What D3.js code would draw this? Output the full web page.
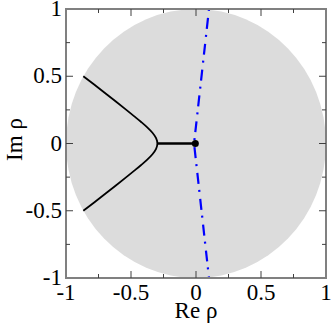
<!DOCTYPE html>
<html>
<head>
<meta charset="utf-8">
<script src="https://cdn.jsdelivr.net/npm/d3@7"></script>
<style>
  body { margin: 0; background: #fff; }
  svg text { font-family: 'Liberation Serif', 'Times New Roman', 'DejaVu Serif', serif; }
</style>
</head>
<body>
<div id="chart"></div>
<script>
// upper branch of the black locus (Re, Im), from the vertex outward
const upperBranch = [
  [-0.297, 0], [-0.307, 0.04], [-0.335, 0.08], [-0.375, 0.12], [-0.422, 0.16],
  [-0.472, 0.20], [-0.536, 0.25], [-0.614, 0.31], [-0.693, 0.37], [-0.786, 0.44], [-0.867, 0.5]
];
const lowerBranch = [
  [-0.297, 0], [-0.307, -0.04], [-0.335, -0.08], [-0.375, -0.12], [-0.422, -0.16],
  [-0.472, -0.20], [-0.536, -0.25], [-0.614, -0.31], [-0.693, -0.37], [-0.786, -0.44], [-0.867, -0.5]
];
const realSegment = [[-0.297, 0], [-0.005, 0]];
const endPoint = [-0.005, 0];
const blueLine = [[0.1, 1.0], [-0.015, 0], [0.1, -1.0]];

const majorTicks = [-1, -0.5, 0, 0.5, 1];
const minorTicks = [-0.75, -0.25, 0.25, 0.75];

const width = 332, height = 326;
const margin = { left: 66, right: 6, top: 9, bottom: 48 };

const x = d3.scaleLinear().domain([-1, 1]).range([margin.left, width - margin.right]);
const y = d3.scaleLinear().domain([-1, 1]).range([height - margin.bottom, margin.top]);

const svg = d3.select("#chart").append("svg")
  .attr("width", width)
  .attr("height", height);

svg.append("defs").append("clipPath").attr("id", "plot-clip")
  .append("rect")
  .attr("x", x(-1)).attr("y", y(1))
  .attr("width", x(1) - x(-1)).attr("height", y(-1) - y(1));

// unit disc
svg.append("ellipse")
  .attr("cx", x(0)).attr("cy", y(0))
  .attr("rx", x(1) - x(0)).attr("ry", y(0) - y(1))
  .attr("fill", "#dcdcdc");

const plot = svg.append("g").attr("clip-path", "url(#plot-clip)");

// both branches joined through the vertex so the turn stays smooth
const locus = lowerBranch.slice().reverse().concat(upperBranch.slice(1));
const smooth = d3.line().x(d => x(d[0])).y(d => y(d[1])).curve(d3.curveMonotoneY);
const straight = d3.line().x(d => x(d[0])).y(d => y(d[1]));

plot.append("path")
  .attr("d", smooth(locus))
  .attr("fill", "none")
  .attr("stroke", "#000")
  .attr("stroke-width", 1.8);

plot.append("path")
  .attr("d", straight(realSegment))
  .attr("fill", "none")
  .attr("stroke", "#000")
  .attr("stroke-width", 2.5);

plot.append("path")
  .attr("d", straight(blueLine))
  .attr("fill", "none")
  .attr("stroke", "#0000ff")
  .attr("stroke-width", 2.2)
  .attr("stroke-dasharray", "2,7,11,6");

plot.append("circle")
  .attr("cx", x(endPoint[0])).attr("cy", y(endPoint[1]))
  .attr("r", 3.5)
  .attr("fill", "#000");

// frame
svg.append("rect")
  .attr("x", x(-1)).attr("y", y(1))
  .attr("width", x(1) - x(-1)).attr("height", y(-1) - y(1))
  .attr("fill", "none")
  .attr("stroke", "#808080")
  .attr("stroke-width", 2);

// inward ticks on all four sides
const tickG = svg.append("g").attr("stroke", "#404040").attr("stroke-width", 1);
function addTicks(values, len) {
  values.forEach(v => {
    tickG.append("line").attr("x1", x(v)).attr("x2", x(v)).attr("y1", y(-1)).attr("y2", y(-1) - len);
    tickG.append("line").attr("x1", x(v)).attr("x2", x(v)).attr("y1", y(1)).attr("y2", y(1) + len);
    tickG.append("line").attr("y1", y(v)).attr("y2", y(v)).attr("x1", x(-1)).attr("x2", x(-1) + len);
    tickG.append("line").attr("y1", y(v)).attr("y2", y(v)).attr("x1", x(1)).attr("x2", x(1) - len);
  });
}
addTicks(majorTicks.slice(1, -1), 7);
addTicks(minorTicks, 4);

const fmt = d => String(d);
const fontSize = 23;

svg.append("g").selectAll("text")
  .data(majorTicks)
  .join("text")
  .attr("x", d => x(d))
  .attr("y", y(-1) + 22)
  .attr("text-anchor", "middle")
  .attr("font-size", fontSize)
  .text(fmt);

svg.append("g").selectAll("text")
  .data(majorTicks)
  .join("text")
  .attr("x", x(-1) - 4)
  .attr("y", d => y(d) + 7)
  .attr("text-anchor", "end")
  .attr("font-size", fontSize)
  .text(fmt);

svg.append("text")
  .attr("x", x(0))
  .attr("y", y(-1) + 40)
  .attr("text-anchor", "middle")
  .attr("font-size", fontSize)
  .text("Re ρ");

svg.append("text")
  .attr("transform", `translate(22,${y(0) - 4}) rotate(-90)`)
  .attr("text-anchor", "middle")
  .attr("font-size", fontSize)
  .text("Im ρ");
</script>
</body>
</html>
